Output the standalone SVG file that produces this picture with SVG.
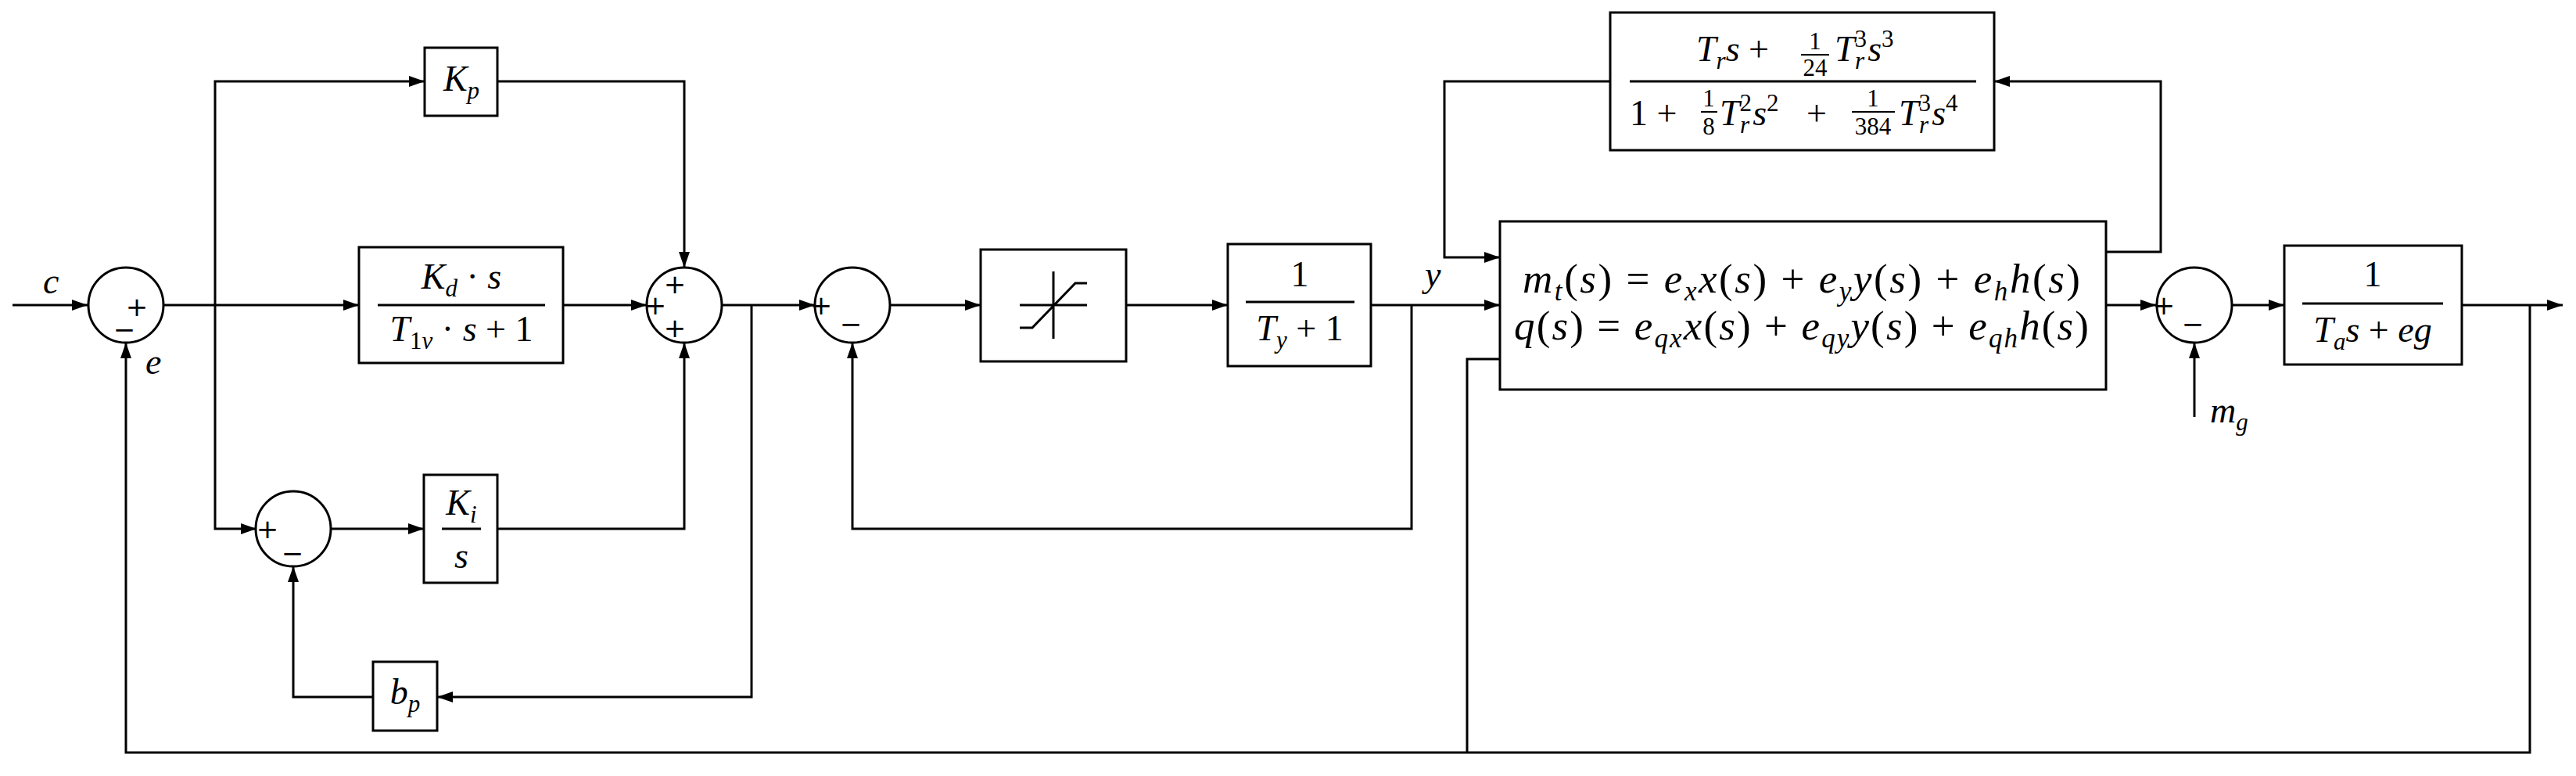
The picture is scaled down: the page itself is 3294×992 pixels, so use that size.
<svg xmlns="http://www.w3.org/2000/svg" width="3294" height="992" viewBox="0 0 3294 992">
<style>
.b{fill:#fff;stroke:#000;stroke-width:3}
.c{fill:none;stroke:#000;stroke-width:3;marker-end:url(#ar)}
.n{fill:none;stroke:#000;stroke-width:3}
text{font-family:"Liberation Serif",serif;font-size:46px;font-style:italic;fill:#000}
.u{font-style:normal}
.s{font-size:31px}
.p{font-size:53px}
.p .s{font-size:35px}
.sg{font-family:"DejaVu Sans",sans-serif;font-style:normal;font-size:34px;text-anchor:middle}
.m{text-anchor:middle}
</style>
<defs><marker id="ar" viewBox="0 0 20 14" refX="20" refY="7" markerWidth="20" markerHeight="14" markerUnits="userSpaceOnUse" orient="auto"><path d="M0,0L20,7L0,14z" fill="#000"/></marker></defs>
<g id="connectors">
<path class="c" d="M16,390H112"/>
<path class="c" d="M209,390H459"/>
<path class="c" d="M275,390V104H543"/>
<path class="c" d="M275,390V676H328"/>
<path class="c" d="M636,104H875V342"/>
<path class="c" d="M720,390H827"/>
<path class="c" d="M423,676H542"/>
<path class="c" d="M636,676H875V438"/>
<path class="c" d="M923,390H1042"/>
<path class="c" d="M961,390V891H559"/>
<path class="c" d="M477,891H375V724"/>
<path class="c" d="M1138,390H1254"/>
<path class="c" d="M1440,390H1570"/>
<path class="c" d="M1753,390H1918"/>
<path class="c" d="M1805,390V676H1090V438"/>
<path class="c" d="M2059,104H1847V329H1918"/>
<path class="c" d="M2693,322H2763V104H2550"/>
<path class="c" d="M2693,390H2757"/>
<path class="c" d="M2806,533V438"/>
<path class="c" d="M2854,390H2921"/>
<path class="c" d="M3148,390H3277"/>
<path class="c" d="M3235,390V962H161V438"/>
<path class="n" d="M1918,459H1876V962"/>
</g>
<g id="sum1"><circle class="b" cx="161" cy="390" r="48"/><text class="sg" x="175" y="404">+</text><text class="sg" x="159" y="433">−</text></g>
<text x="55" y="375">c</text>
<text x="186" y="478">e</text>
<g id="Kp"><rect class="b" x="543" y="61" width="93" height="87"/><text class="m" x="590" y="116">K<tspan class="s" dy="10">p</tspan></text></g>
<g id="Kd"><rect class="b" x="459" y="316" width="261" height="148"/><text class="m" x="590" y="369">K<tspan class="s" dy="10">d</tspan><tspan dy="-10" class="u"> · </tspan>s</text><path class="n" d="M483,390H697"/><text class="m" x="590" y="436">T<tspan class="s u" dy="10">1</tspan><tspan class="s" dy="0">v</tspan><tspan dy="-10" class="u"> · </tspan>s<tspan class="u"> + 1</tspan></text></g>
<g id="sum2"><circle class="b" cx="875" cy="390" r="48"/><text class="sg" x="863" y="375">+</text><text class="sg" x="838" y="402">+</text><text class="sg" x="863" y="431">+</text></g>
<g id="sum3"><circle class="b" cx="375" cy="676" r="48"/><text class="sg" x="342" y="688">+</text><text class="sg" x="374" y="719">−</text></g>
<g id="Ki"><rect class="b" x="542" y="607" width="94" height="138"/><text class="m" x="590" y="658">K<tspan class="s" dy="10">i</tspan></text><path class="n" d="M565,676H615"/><text class="m" x="590" y="726">s</text></g>
<g id="bp"><rect class="b" x="477" y="846" width="82" height="88"/><text class="m" x="518" y="900">b<tspan class="s" dy="10">p</tspan></text></g>
<g id="sum4"><circle class="b" cx="1090" cy="390" r="48"/><text class="sg" x="1050" y="402">+</text><text class="sg" x="1088" y="426">−</text></g>
<g id="sat"><rect class="b" x="1254" y="319" width="186" height="143"/><path class="n" d="M1347,347V433M1304,390H1390M1304,419H1320L1375,362H1390"/></g>
<g id="Ty"><rect class="b" x="1570" y="312" width="183" height="156"/><text class="m u" x="1662" y="366">1</text><path class="n" d="M1593,386H1732"/><text class="m" x="1662" y="435">T<tspan class="s" dy="10">y</tspan><tspan class="u" dy="-10"> + 1</tspan></text></g>
<text x="1822" y="366">y</text>
<g id="plant"><rect class="b" x="1918" y="283" width="775" height="215"/>
<text class="p" x="1947" y="374" textLength="713" lengthAdjust="spacing">m<tspan class="s" dy="10">t</tspan><tspan class="u" dy="-10">(</tspan>s<tspan class="u">) = </tspan>e<tspan class="s" dy="10">x</tspan><tspan dy="-10">x</tspan><tspan class="u">(</tspan>s<tspan class="u">) + </tspan>e<tspan class="s" dy="10">y</tspan><tspan dy="-10">y</tspan><tspan class="u">(</tspan>s<tspan class="u">) + </tspan>e<tspan class="s" dy="10">h</tspan><tspan dy="-10">h</tspan><tspan class="u">(</tspan>s<tspan class="u">)</tspan></text>
<text class="p" x="1936" y="434" textLength="735" lengthAdjust="spacing">q<tspan class="u">(</tspan>s<tspan class="u">) = </tspan>e<tspan class="s" dy="10">qx</tspan><tspan dy="-10">x</tspan><tspan class="u">(</tspan>s<tspan class="u">) + </tspan>e<tspan class="s" dy="10">qy</tspan><tspan dy="-10">y</tspan><tspan class="u">(</tspan>s<tspan class="u">) + </tspan>e<tspan class="s" dy="10">qh</tspan><tspan dy="-10">h</tspan><tspan class="u">(</tspan>s<tspan class="u">)</tspan></text></g>
<g id="Tr"><rect class="b" x="2059" y="16" width="491" height="176"/>
<text x="2169" y="78">T<tspan class="s" dy="10">r</tspan><tspan dy="-10">s</tspan><tspan class="u"> +</tspan></text>
<text class="u m s" x="2321" y="63">1</text><path d="M2303,70H2339" stroke="#000" stroke-width="2"/><text class="u m s" x="2321" y="97">24</text>
<text x="2346" y="78">T<tspan class="s u" dy="-18">3</tspan><tspan class="s" dx="-15" dy="28">r</tspan><tspan dy="-10" dx="4">s</tspan><tspan class="s u" dy="-18">3</tspan></text>
<path class="n" d="M2084,104H2527"/>
<text class="u" x="2084" y="160">1 +</text>
<text class="u m s" x="2185" y="136">1</text><path d="M2175,143H2196" stroke="#000" stroke-width="2"/><text class="u m s" x="2185" y="172">8</text>
<text x="2199" y="160">T<tspan class="s u" dy="-18">2</tspan><tspan class="s" dx="-15" dy="28">r</tspan><tspan dy="-10" dx="4">s</tspan><tspan class="s u" dy="-18">2</tspan></text>
<text class="u" x="2310" y="160">+</text>
<text class="u m s" x="2395" y="136">1</text><path d="M2368,143H2423" stroke="#000" stroke-width="2"/><text class="u m s" x="2395" y="172">384</text>
<text x="2428" y="160">T<tspan class="s u" dy="-18">3</tspan><tspan class="s" dx="-15" dy="28">r</tspan><tspan dy="-10" dx="4">s</tspan><tspan class="s u" dy="-18">4</tspan></text>
</g>
<g id="sum5"><circle class="b" cx="2806" cy="390" r="48"/><text class="sg" x="2767" y="402">+</text><text class="sg" x="2804" y="426">−</text></g>
<text x="2826" y="540">m<tspan class="s" dy="10">g</tspan></text>
<g id="Ta"><rect class="b" x="2921" y="314" width="227" height="152"/><text class="m u" x="3034" y="366">1</text><path class="n" d="M2944,388H3124"/><text class="m" x="3034" y="437">T<tspan class="s" dy="10">a</tspan><tspan dy="-10">s</tspan><tspan class="u"> + </tspan>eg</text></g>
</svg>
